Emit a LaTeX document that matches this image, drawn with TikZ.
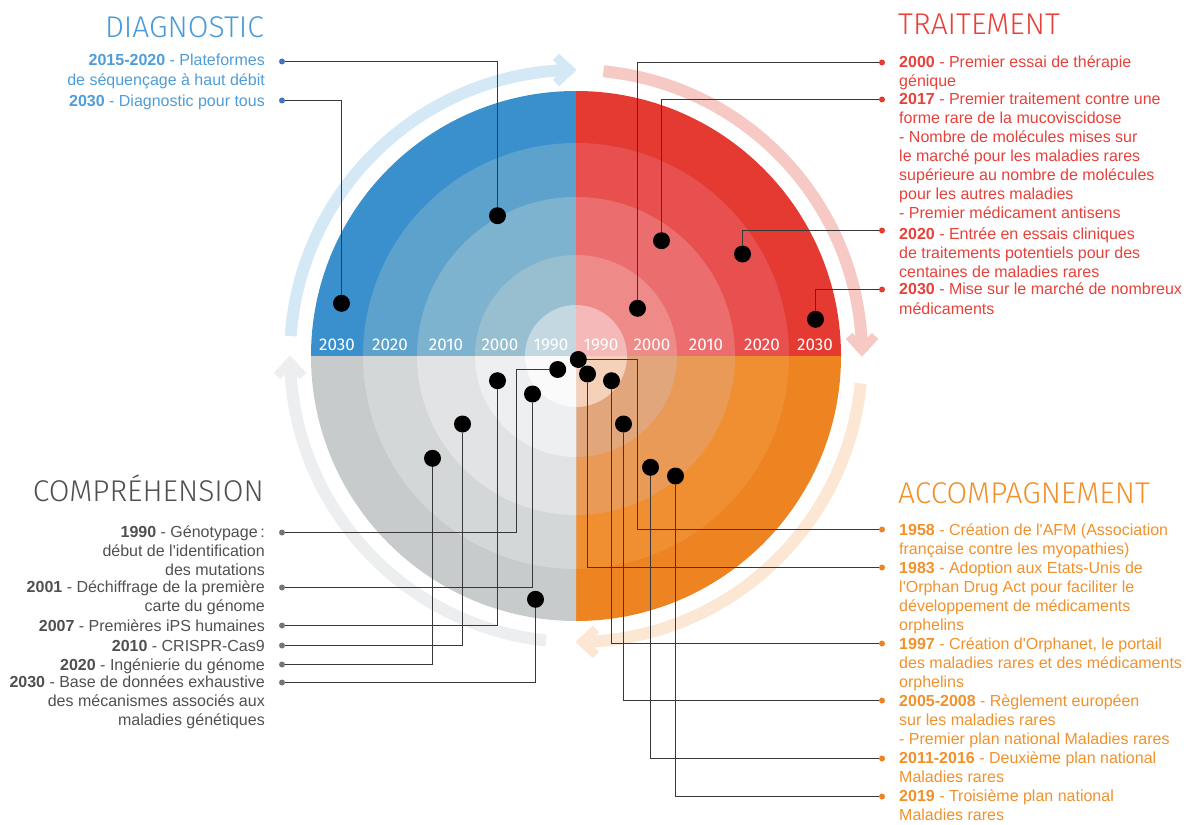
\documentclass[tikz,border=0pt]{standalone}
\usepackage{fontspec}
\setmainfont{Liberation Sans}[Ligatures=TeXOff]
\newfontfamily\titlefont{Fira Sans Light}
\newfontfamily\yearfont{Fira Sans}
\definecolor{blueA}{HTML}{3A8FCD}
\definecolor{blueB}{HTML}{5CA2CD}
\definecolor{blueC}{HTML}{7EB3D0}
\definecolor{blueD}{HTML}{98BFCF}
\definecolor{blueE}{HTML}{C4D8E1}
\definecolor{redA}{HTML}{E53A31}
\definecolor{redB}{HTML}{E85050}
\definecolor{redC}{HTML}{EB6D6D}
\definecolor{redD}{HTML}{EE8B89}
\definecolor{redE}{HTML}{F4B9B8}
\definecolor{orangeA}{HTML}{EE8322}
\definecolor{orangeB}{HTML}{F08F31}
\definecolor{orangeC}{HTML}{E99A56}
\definecolor{orangeD}{HTML}{E2A67C}
\definecolor{orangeE}{HTML}{F5D1BA}
\definecolor{grayA}{HTML}{C7CBCC}
\definecolor{grayB}{HTML}{D4D7D8}
\definecolor{grayC}{HTML}{E2E3E4}
\definecolor{grayD}{HTML}{EEEFF0}
\definecolor{grayE}{HTML}{FAFAFA}
\definecolor{blueLt}{HTML}{D5E8F5}
\definecolor{redLt}{HTML}{F7C9C4}
\definecolor{orangeLt}{HTML}{FBE7D3}
\definecolor{grayLt}{HTML}{EDEEEF}
\definecolor{blueTxt}{HTML}{4E9DD8}
\definecolor{blueTtl}{HTML}{4A9BD8}
\definecolor{redTxt}{HTML}{E6413A}
\definecolor{grayTxt}{HTML}{505050}
\definecolor{orangeTxt}{HTML}{F0912C}
\definecolor{blueEnd}{HTML}{4472C4}
\definecolor{grayEnd}{HTML}{777777}

\begin{document}
\begin{tikzpicture}[x=1pt, y=1pt,
  bigdot/.style={circle, fill=black, minimum size=17pt},
  enddot/.style={circle, minimum size=6pt},
  link/.style={draw=black!78, line width=1.2pt},
  ring/.style={line width=12pt},
  chev/.style={line width=9pt, miter limit=10},
  ttl/.style={font=\titlefont\fontsize{30}{36}\selectfont},
  yr/.style={text=white, anchor=base, font=\yearfont\fontsize{17}{20}\selectfont},
  itemL/.style={anchor=north west, yshift=13.37pt, align=left, execute at begin node=\strut, font=\fontsize{16}{19.1}\selectfont},
  itemR/.style={anchor=north east, yshift=13.37pt, align=right, execute at begin node=\strut, font=\fontsize{16}{19.1}\selectfont}]
\tikzstyle{every node}+=[inner sep=0pt]
\useasboundingbox (0,0) rectangle (1190,-824);

\begin{scope}[shift={(576,-356)}]
\draw [ring, blueLt] (176:286) arc [start angle=176, end angle=91, radius=286];
\draw [chev, blueLt] (-20,299) -- (-6,286) -- (-20,273);
\draw [ring, redLt] (84.5:286) arc [start angle=84.5, end angle=1, radius=286];
\draw [chev, redLt] (273,20) -- (286,6) -- (299,20);
\draw [ring, orangeLt] (-5.5:286) arc [start angle=-5.5, end angle=-89, radius=286];
\draw [chev, orangeLt] (20,-273) -- (6,-286) -- (20,-299);
\draw [ring, grayLt] (264:286) arc [start angle=264, end angle=181, radius=286];
\draw [chev, grayLt] (-273,-20) -- (-286,-6) -- (-299,-20);
\fill [blueA] (0,0) -- (90:265) arc [start angle=90, end angle=180, radius=265] -- cycle;
\fill [blueB] (0,0) -- (90:213) arc [start angle=90, end angle=180, radius=213] -- cycle;
\fill [blueC] (0,0) -- (90:159) arc [start angle=90, end angle=180, radius=159] -- cycle;
\fill [blueD] (0,0) -- (90:101) arc [start angle=90, end angle=180, radius=101] -- cycle;
\fill [blueE] (0,0) -- (90:51) arc [start angle=90, end angle=180, radius=51] -- cycle;
\fill [redA] (0,0) -- (0:265) arc [start angle=0, end angle=90, radius=265] -- cycle;
\fill [redB] (0,0) -- (0:213) arc [start angle=0, end angle=90, radius=213] -- cycle;
\fill [redC] (0,0) -- (0:159) arc [start angle=0, end angle=90, radius=159] -- cycle;
\fill [redD] (0,0) -- (0:101) arc [start angle=0, end angle=90, radius=101] -- cycle;
\fill [redE] (0,0) -- (0:51) arc [start angle=0, end angle=90, radius=51] -- cycle;
\fill [orangeA] (0,0) -- (270:265) arc [start angle=270, end angle=360, radius=265] -- cycle;
\fill [orangeB] (0,0) -- (270:213) arc [start angle=270, end angle=360, radius=213] -- cycle;
\fill [orangeC] (0,0) -- (270:159) arc [start angle=270, end angle=360, radius=159] -- cycle;
\fill [orangeD] (0,0) -- (270:101) arc [start angle=270, end angle=360, radius=101] -- cycle;
\fill [orangeE] (0,0) -- (270:51) arc [start angle=270, end angle=360, radius=51] -- cycle;
\fill [grayA] (0,0) -- (180:265) arc [start angle=180, end angle=270, radius=265] -- cycle;
\fill [grayB] (0,0) -- (180:213) arc [start angle=180, end angle=270, radius=213] -- cycle;
\fill [grayC] (0,0) -- (180:159) arc [start angle=180, end angle=270, radius=159] -- cycle;
\fill [grayD] (0,0) -- (180:101) arc [start angle=180, end angle=270, radius=101] -- cycle;
\fill [grayE] (0,0) -- (180:51) arc [start angle=180, end angle=270, radius=51] -- cycle;
\end{scope}

\node [yr] (yl2030) at (337,-350.7) {2030};
\node [yr] (yl2020) at (390,-350.7) {2020};
\node [yr] (yl2010) at (446,-350.7) {2010};
\node [yr] (yl2000) at (500,-350.7) {2000};
\node [yr] (yl1990) at (551,-350.7) {1990};
\node [yr] (yr1990) at (601,-350.7) {1990};
\node [yr] (yr2000) at (652,-350.7) {2000};
\node [yr] (yr2010) at (706,-350.7) {2010};
\node [yr] (yr2020) at (762,-350.7) {2020};
\node [yr] (yr2030) at (815,-350.7) {2030};

\node [bigdot] (d2015) at (497.5,-215.7) {};
\node [bigdot] (d2030) at (341.5,-303.3) {};
\node [enddot, fill=blueEnd] (d2015e) at (282,-61.5) {};
\node [enddot, fill=blueEnd] (d2030e) at (282,-100.5) {};
\draw [link] (d2015) |- (d2015e);
\draw [link] (d2030) |- (d2030e);

\node [bigdot] (t2000) at (637.5,-308.3) {};
\node [bigdot] (t2017) at (661.5,-240.7) {};
\node [bigdot] (t2020) at (742.5,-254) {};
\node [bigdot] (t2030) at (815.5,-319.3) {};
\node [enddot, fill=redA] (t2000e) at (882,-62.5) {};
\node [enddot, fill=redA] (t2017e) at (882,-99.5) {};
\node [enddot, fill=redA] (t2020e) at (882,-230.5) {};
\node [enddot, fill=redA] (t2030e) at (882,-289.5) {};
\draw [link] (t2000) |- (t2000e);
\draw [link] (t2017) |- (t2017e);
\draw [link] (t2020) |- (t2020e);
\draw [link] (t2030) |- (t2030e);

\node [bigdot] (c1990) at (557.7,-369.5) {};
\node [bigdot] (c2001) at (532.5,-394) {};
\node [bigdot] (c2007) at (497.5,-380.7) {};
\node [bigdot] (c2010) at (462.5,-424) {};
\node [bigdot] (c2020) at (432.5,-458.3) {};
\node [bigdot] (c2030) at (535.5,-599.3) {};
\coordinate (c1990k) at (516.5,-369.5);
\node [enddot, fill=grayEnd] (c1990e) at (282,-532.5) {};
\node [enddot, fill=grayEnd] (c2001e) at (282,-587.5) {};
\node [enddot, fill=grayEnd] (c2007e) at (282,-625.5) {};
\node [enddot, fill=grayEnd] (c2010e) at (282,-645.5) {};
\node [enddot, fill=grayEnd] (c2020e) at (282,-664.5) {};
\node [enddot, fill=grayEnd] (c2030e) at (282,-682.5) {};
\draw [link] (c1990) -- (c1990k) |- (c1990e);
\draw [link] (c2001) |- (c2001e);
\draw [link] (c2007) |- (c2007e);
\draw [link] (c2010) |- (c2010e);
\draw [link] (c2020) |- (c2020e);
\draw [link] (c2030) |- (c2030e);

\node [bigdot] (a1958) at (578.3,-359.5) {};
\node [bigdot] (a1983) at (587.5,-374) {};
\node [bigdot] (a1997) at (611.5,-380.7) {};
\node [bigdot] (a2005) at (623.5,-424) {};
\node [bigdot] (a2011) at (650.5,-467.3) {};
\node [bigdot] (a2019) at (675.5,-476) {};
\coordinate (a1958k) at (637.5,-529.5);
\node [enddot, fill=orangeA] (a1958e) at (882,-529.5) {};
\node [enddot, fill=orangeA] (a1983e) at (882,-567.5) {};
\node [enddot, fill=orangeA] (a1997e) at (882,-643.5) {};
\node [enddot, fill=orangeA] (a2005e) at (882,-700.5) {};
\node [enddot, fill=orangeA] (a2011e) at (882,-758.5) {};
\node [enddot, fill=orangeA] (a2019e) at (882,-796.5) {};
\draw [link] (a1958) -| (a1958k) -- (a1958e);
\draw [link] (a1983) |- (a1983e);
\draw [link] (a1997) |- (a1997e);
\draw [link] (a2005) |- (a2005e);
\draw [link] (a2011) |- (a2011e);
\draw [link] (a2019) |- (a2019e);

\node [ttl, anchor=base east, text=blueTtl] (diagT) at (264,-37.3) {DIAGNOSTIC};
\node [itemR, text=blueTxt] (d2015t) at (265,-67.5) {\textbf{2015-2020} - Plateformes\\de séquençage à haut débit};
\node [itemR, text=blueTxt] (d2030t) at (265,-106.5) {\textbf{2030} - Diagnostic pour tous};

\node [ttl, anchor=base west, text=redTxt] (traitT) at (898,-34.3) {TRAITEMENT};
\node [itemL, text=redTxt] (t2000t) at (899,-68.8) {\textbf{2000} - Premier essai de thérapie\\génique};
\node [itemL, text=redTxt] (t2017t) at (899,-105.7) {\textbf{2017} - Premier traitement contre une\\forme rare de la mucoviscidose\\- Nombre de molécules mises sur\\le marché pour les maladies rares\\supérieure au nombre de molécules\\pour les autres maladies\\- Premier médicament antisens};
\node [itemL, text=redTxt] (t2020t) at (899,-240.5) {\textbf{2020} - Entrée en essais cliniques\\de traitements potentiels pour des\\centaines de maladies rares};
\node [itemL, text=redTxt] (t2030t) at (899,-296.3) {\textbf{2030} - Mise sur le marché de nombreux\\médicaments};

\node [ttl, anchor=base east, text=grayTxt] (compT) at (264,-501.7) {COMPRÉHENSION};
\node [itemR, text=grayTxt] (c1990t) at (265,-539) {\textbf{1990} - Génotypage\,:\\début de l'identification\\des mutations};
\node [itemR, text=grayTxt] (c2001t) at (265,-594) {\textbf{2001} - Déchiffrage de la première\\carte du génome};
\node [itemR, text=grayTxt] (c2007t) at (265,-631.7) {\textbf{2007} - Premières iPS humaines};
\node [itemR, text=grayTxt] (c2010t) at (265,-651.4) {\textbf{2010} - CRISPR-Cas9};
\node [itemR, text=grayTxt] (c2020t) at (265,-670) {\textbf{2020} - Ingénierie du génome};
\node [itemR, text=grayTxt] (c2030t) at (265,-689) {\textbf{2030} - Base de données exhaustive\\des mécanismes associés aux\\maladies génétiques};

\node [ttl, anchor=base west, text=orangeTxt] (accT) at (898,-503) {ACCOMPAGNEMENT};
\node [itemL, text=orangeTxt] (a1958t) at (899,-536.5) {\textbf{1958} - Création de l'AFM (Association\\française contre les myopathies)};
\node [itemL, text=orangeTxt] (a1983t) at (899,-574.7) {\textbf{1983} - Adoption aux Etats-Unis de\\l'Orphan Drug Act pour faciliter le\\développement de médicaments\\orphelins};
\node [itemL, text=orangeTxt] (a1997t) at (899,-650.7) {\textbf{1997} - Création d'Orphanet, le portail\\des maladies rares et des médicaments\\orphelins};
\node [itemL, text=orangeTxt] (a2005t) at (899,-708) {\textbf{2005-2008} - Règlement européen\\sur les maladies rares\\- Premier plan national Maladies rares};
\node [itemL, text=orangeTxt] (a2011t) at (899,-764.7) {\textbf{2011-2016} - Deuxième plan national\\Maladies rares};
\node [itemL, text=orangeTxt] (a2019t) at (899,-802.4) {\textbf{2019} - Troisième plan national\\Maladies rares};
\end{tikzpicture}
\end{document}
